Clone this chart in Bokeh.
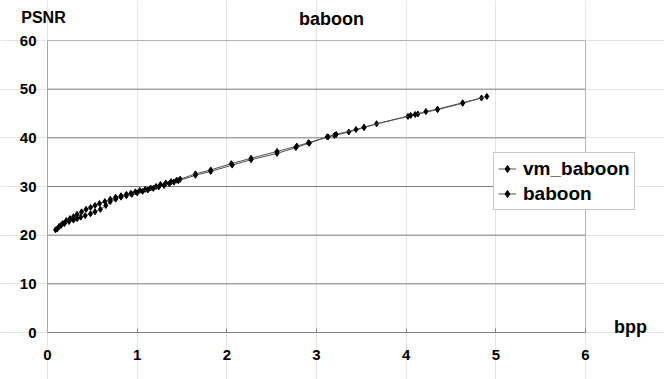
from bokeh.plotting import figure
from bokeh.models import Range1d, FixedTicker, Legend, LegendItem, Label, LinearAxis
from bokeh.embed import file_html
from bokeh.resources import INLINE

# vm_baboon series
vm_bpp = [0.09, 0.13, 0.17, 0.21, 0.25, 0.29, 0.33, 0.38, 0.43, 0.48, 0.53, 0.58,
          0.64, 0.70, 0.76, 0.82, 0.88, 0.93, 0.98, 1.03, 1.09, 1.15, 1.21, 1.26,
          1.32, 1.38, 1.44, 1.48, 1.65, 1.82, 2.05, 2.27, 2.56, 2.78, 2.91, 3.13,
          3.20, 3.36, 3.53, 3.67, 4.02, 4.13, 4.35, 4.63, 4.84]
vm_psnr = [21.1, 21.8, 22.4, 23.0, 23.4, 23.8, 24.3, 24.8, 25.3, 25.7, 26.1, 26.5,
           26.9, 27.4, 27.8, 28.1, 28.4, 28.6, 28.9, 29.2, 29.4, 29.7, 30.0, 30.4,
           30.7, 31.0, 31.3, 31.5, 32.6, 33.4, 34.7, 35.8, 37.2, 38.3, 39.0, 40.2,
           40.5, 41.2, 42.1, 42.9, 44.4, 44.9, 45.8, 47.1, 48.2]

# baboon series
bb_bpp = [0.11, 0.15, 0.19, 0.24, 0.29, 0.33, 0.37, 0.42, 0.48, 0.53, 0.59, 0.65,
          0.70, 0.76, 0.82, 0.88, 0.94, 1.00, 1.06, 1.12, 1.18, 1.24, 1.30, 1.36,
          1.41, 1.46, 1.65, 1.82, 2.06, 2.27, 2.56, 2.77, 2.92, 3.12, 3.22, 3.44,
          3.53, 4.05, 4.10, 4.22, 4.35, 4.63, 4.90]
bb_psnr = [21.3, 22.0, 22.4, 22.8, 23.1, 23.4, 23.7, 24.0, 24.4, 24.8, 25.3, 26.1,
           26.9, 27.4, 27.8, 28.1, 28.4, 28.7, 29.0, 29.3, 29.6, 29.9, 30.2, 30.6,
           30.9, 31.2, 32.3, 33.1, 34.4, 35.5, 36.8, 38.0, 38.9, 40.2, 40.7, 41.7,
           42.2, 44.6, 44.8, 45.4, 45.9, 47.2, 48.5]

x_ticks = [0, 1, 2, 3, 4, 5, 6]
y_ticks = [0, 10, 20, 30, 40, 50, 60]
series_names = ["vm_baboon", "baboon"]
title_text = "baboon"
x_label = "bpp"
y_label = "PSNR"

FONT = "Liberation Sans"
W, H = 664, 379
# plot area inside the figure (px)
PL, PR, PT, PB = 47, 585, 40, 332

xmin, xmax = x_ticks[0], x_ticks[-1]
ymin, ymax = y_ticks[0], y_ticks[-1]
xs = (PR - PL) / (xmax - xmin)
ys = (PB - PT) / (ymax - ymin)

p = figure(width=W, height=H, output_backend="svg", toolbar_location=None,
           x_range=Range1d(xmin - PL / xs, xmax + (W - PR) / xs),
           y_range=Range1d(ymin - (H - PB) / ys, ymax + PT / ys),
           x_axis_location=None, y_axis_location=None,
           min_border=0)
p.outline_line_color = None
p.background_fill_color = "white"
p.border_fill_color = "white"

# gridlines and plot-area border
grid_y = [t for t in y_ticks if t not in (ymin, ymax)]
p.segment(x0=[xmin] * len(grid_y), x1=[xmax] * len(grid_y), y0=grid_y, y1=grid_y,
          line_color="#808080", line_width=1)
p.segment(x0=[xmin, xmax], x1=[xmax, xmax], y0=[ymax, ymin], y1=[ymax, ymax],
          line_color="#b4b4b4", line_width=1)

xaxis = LinearAxis(fixed_location=ymin, bounds=(xmin, xmax), ticker=FixedTicker(ticks=x_ticks))
yaxis = LinearAxis(fixed_location=xmin, bounds=(ymin, ymax), ticker=FixedTicker(ticks=y_ticks))
xaxis.major_tick_in = 4
xaxis.major_tick_out = 0
xaxis.major_tick_line_color = "#808080"
yaxis.major_tick_in = 0
yaxis.major_tick_out = 0
xaxis.axis_line_color = "#808080"
yaxis.axis_line_color = "#a8a8a8"
for ax in (xaxis, yaxis):
    ax.minor_tick_line_color = None
    ax.major_label_text_font = FONT
    ax.major_label_text_font_style = "bold"
    ax.major_label_text_font_size = "15px"
    ax.major_label_text_color = "black"
xaxis.major_label_standoff = 17
yaxis.major_label_standoff = 11
p.add_layout(xaxis, "below")
p.add_layout(yaxis, "left")

l1 = p.line(vm_bpp, vm_psnr, line_color="#505050", line_width=1)
s1 = p.scatter(vm_bpp, vm_psnr, marker="diamond", size=6, color="black")
l2 = p.line(bb_bpp, bb_psnr, line_color="#505050", line_width=1)
s2 = p.scatter(bb_bpp, bb_psnr, marker="diamond", size=6, color="black")

legend = Legend(items=[LegendItem(label=series_names[0], renderers=[l1, s1]),
                       LegendItem(label=series_names[1], renderers=[l2, s2])],
                location=(493, 169))
legend.label_text_font = FONT
legend.label_text_font_style = "bold"
legend.label_text_font_size = "19px"
legend.label_text_color = "black"
legend.border_line_color = "#909090"
legend.border_line_width = 1
legend.glyph_width = 18
legend.label_standoff = 7
legend.padding = 4
legend.spacing = 2
legend.margin = 0
legend.label_height = 23
legend.glyph_height = 23
legend.background_fill_alpha = 1
p.add_layout(legend, "center")

p.add_layout(Label(x=331, y=361, x_units="screen", y_units="screen", text=title_text,
                   text_font=FONT, text_font_style="bold", text_font_size="18px",
                   text_color="black", text_align="center", text_baseline="middle"))
p.add_layout(Label(x=43, y=362, x_units="screen", y_units="screen", text=y_label,
                   text_font=FONT, text_font_style="bold", text_font_size="16px",
                   text_color="black", text_align="center", text_baseline="middle"))
p.add_layout(Label(x=630, y=53, x_units="screen", y_units="screen", text=x_label,
                   text_font=FONT, text_font_style="bold", text_font_size="18px",
                   text_color="black", text_align="center", text_baseline="middle"))

open("out.html", "w").write(file_html(p, INLINE))
